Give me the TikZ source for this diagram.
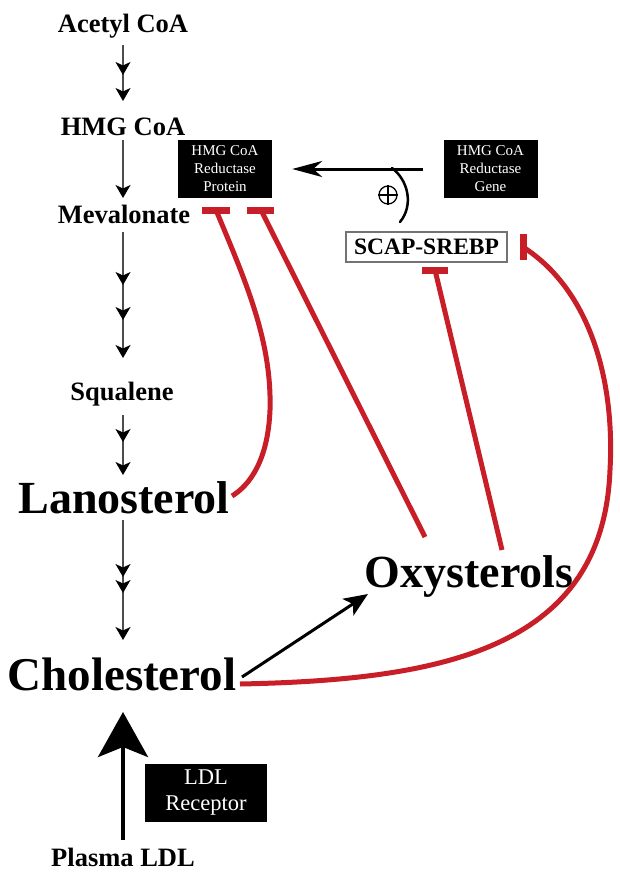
\documentclass[tikz,border=0pt]{standalone}
\usepackage{fontspec}
\setmainfont{Liberation Serif}
\usetikzlibrary{arrows.meta,decorations.markings,calc}
\definecolor{inhred}{RGB}{200,30,40}
\tikzset{
  chaintip/.tip={Stealth[length=13pt,width=15pt,inset=3.5pt,color=black]},
  lab/.style={font=\bfseries\fontsize{26.5}{30}\selectfont, inner sep=0pt, anchor=base},
  biglab/.style={font=\bfseries\fontsize{46}{50}\selectfont, inner sep=0pt, anchor=base},
  blackbox/.style={fill=black, text=white, font=\fontsize{15}{18}\selectfont, align=center, inner sep=0pt, minimum width=94pt, minimum height=58pt},
  chainline/.style={draw=black!70, line width=1.2pt, -{chaintip}},
  inh/.style={draw=inhred, line width=5pt},
  tbar/.style={draw=inhred, line width=7pt},
  marks1/.style={postaction={decorate}, decoration={markings, mark=at position #1 with {\arrow{chaintip}}}},
  marks2/.style 2 args={postaction={decorate}, decoration={markings, mark=at position #1 with {\arrow{chaintip}}, mark=at position #2 with {\arrow{chaintip}}}}
}
\begin{document}
\begin{tikzpicture}[x=1pt,y=-1pt]
\useasboundingbox (0,0) rectangle (620,873);
% labels
\node[lab] (acetyl) at (123,32) {Acetyl CoA};
\node[lab] (hmg) at (123,135) {HMG CoA};
\node[lab] (meva) at (124,223) {Mevalonate};
\node[lab] (squa) at (122,400) {Squalene};
\node[biglab] (lano) at (124,513) {Lanosterol};
\node[font=\bfseries\fontsize{47}{50}\selectfont, inner sep=0pt, anchor=base] (chol) at (122,690) {Cholesterol};
\node[biglab] (oxy) at (469,587) {Oxysterols};
\node[lab] (plasma) at (123,866) {Plasma LDL};
% boxes
\node[blackbox] (prot) at (225,169) {HMG CoA\\Reductase\\Protein};
\node[blackbox] (gene) at (490.5,169) {HMG CoA\\Reductase\\Gene};
\node[blackbox, minimum width=122pt, font=\fontsize{22.5}{26}\selectfont] (ldlr) at (206,793) {LDL\\Receptor};
\node[draw=black!55, line width=1.2pt, fill=white, minimum width=161pt, minimum height=30pt, inner sep=0pt, font=\bfseries\fontsize{23.5}{26}\selectfont] (scap) at (426.5,247) {SCAP-SREBP};
% chain coordinates
\coordinate (c1a) at (123,45);  \coordinate (c1b) at (123,101);
\coordinate (c2a) at (123,140); \coordinate (c2b) at (123,198);
\coordinate (c3a) at (123,232); \coordinate (c3b) at (123,358);
\coordinate (c4a) at (123,415); \coordinate (c4b) at (123,475);
\coordinate (c5a) at (123,520); \coordinate (c5b) at (123,640);
\draw[chainline, marks1=30pt] (c1a) -- (c1b);
\draw[chainline] (c2a) -- (c2b);
\draw[chainline, marks2={53pt}{88pt}] (c3a) -- (c3b);
\draw[chainline, marks1=27pt] (c4a) -- (c4b);
\draw[chainline, marks2={57pt}{73pt}] (c5a) -- (c5b);
% plasma LDL arrow
\coordinate (ldla) at (123,840); \coordinate (ldlb) at (123,712);
\draw[line width=4pt, -{Stealth[length=45pt,width=50pt,inset=10pt]}] (ldla) -- (ldlb);
% cholesterol -> oxysterols
\coordinate (coa) at (242,677); \coordinate (cob) at (368,594);
\draw[line width=3pt, -{Stealth[length=24pt,width=20pt,inset=6pt]}] (coa) -- (cob);
% gene -> protein
\draw[line width=3pt, shorten <=20pt, shorten >=20pt, -{Stealth[length=30pt,width=16pt,inset=9pt]}] (gene.west) -- (prot.east);
% plus modulation
\coordinate (pc) at (392,168);
\coordinate (pe) at (400,222);
\draw[line width=2.5pt, line cap=round] (pc) .. controls (408,180) and (414,205) .. (pe);
\node[circle, draw, line width=1.3pt, minimum size=18pt, inner sep=0pt] (plus) at (388,195) {};
\draw[line width=1.1pt] (plus.north) -- (plus.south) (plus.west) -- (plus.east);
% inhibition lines
\coordinate (t1) at (216,210);
\coordinate (t2) at (261,210);
\coordinate (t3) at (435,270);
\coordinate (t4) at (523,247);
\coordinate (r1e) at (232,496);
\coordinate (r2e) at (425,537);
\coordinate (r3e) at (502,550);
\coordinate (r4e) at (240,684);
\draw[inh] (t1) .. controls (245,280) and (272,340) .. (270,410) .. controls (268,460) and (250,485) .. (r1e);
\draw[inh] (t2) -- (r2e);
\draw[inh] (t3) -- (r3e);
\draw[inh] (t4) .. controls (590,290) and (615,380) .. (610,470) .. controls (603,650) and (440,680) .. (r4e);
\draw[tbar] ($(t1)+(-14,0)$) -- ($(t1)+(14,0)$);
\draw[tbar] ($(t2)+(-14,0)$) -- ($(t2)+(13,0)$);
\draw[tbar] ($(t3)+(-13,0)$) -- ($(t3)+(13,0)$);
\draw[tbar] ($(t4)+(0,-13)$) -- ($(t4)+(0,13)$);
\end{tikzpicture}
\end{document}
